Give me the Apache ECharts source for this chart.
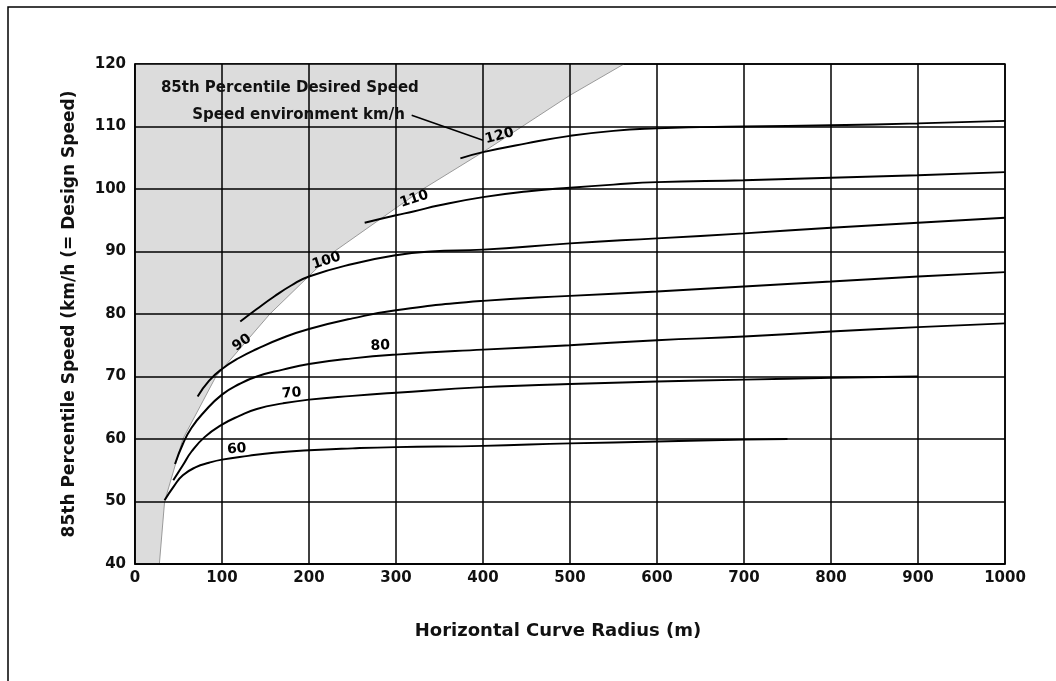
<!DOCTYPE html>
<html>
<head>
<meta charset="utf-8">
<script src="https://cdn.jsdelivr.net/npm/echarts@6/dist/echarts.min.js"></script>
<style>
  html, body { margin: 0; padding: 0; background: #fff; }
  #chart { width: 1056px; height: 681px; }
</style>
</head>
<body>
<div id="chart"></div>
<script>
// speed environment curves, [radius m, 85th percentile speed km/h]
const env60 = [[34,50.2],[45,52.5],[55,54.2],[70,55.5],[85,56.2],[100,56.7],[130,57.3],[160,57.8],[200,58.2],[250,58.5],[300,58.7],[400,58.9],[500,59.3],[600,59.6],[700,59.9],[750,60]]
const env70 = [[44,53.4],[55,55.8],[65,58],[80,60.3],[100,62.3],[120,63.7],[140,64.8],[170,65.7],[200,66.3],[250,66.9],[300,67.4],[400,68.3],[500,68.8],[600,69.2],[700,69.5],[800,69.8],[900,70]]
const env80 = [[46,56],[55,59.2],[65,61.8],[80,64.4],[100,67.1],[120,68.8],[140,70],[170,71.1],[200,72],[250,72.9],[300,73.5],[400,74.3],[500,75],[600,75.8],[700,76.4],[800,77.2],[900,77.9],[1000,78.5]]
const env90 = [[72,66.8],[85,69.3],[100,71.2],[120,73],[140,74.4],[170,76.2],[200,77.6],[250,79.3],[300,80.6],[400,82.1],[500,82.9],[600,83.6],[700,84.4],[800,85.2],[900,86],[1000,86.7]]
const env100 = [[121,78.8],[140,80.8],[160,82.8],[180,84.6],[200,86],[250,88],[300,89.4],[340,90],[400,90.3],[500,91.3],[600,92.1],[700,92.9],[800,93.8],[900,94.6],[1000,95.4]]
const env110 = [[264,94.6],[300,95.8],[320,96.4],[350,97.4],[400,98.7],[450,99.6],[500,100.2],[550,100.7],[600,101.1],[700,101.4],[800,101.8],[900,102.2],[1000,102.7]]
const env120 = [[374,104.9],[400,105.9],[450,107.3],[500,108.5],[550,109.3],[600,109.7],[650,109.9],[700,110],[800,110.2],[900,110.5],[1000,110.9]]

// edge of the desired speed zone (shaded side is above/left)
const desiredEdge = [[0,40],[28,40],[34,50],[55,60],[93,70],[155,80],[229,90],[331,100],[401,106],[500,115],[562,120]]

// curve labels
const labelText = ['60','70','80','90','100','110','120']
const labelPos = [[117,58.4],[180,67.3],[282,74.9],[123,75.4],[220,88.5],[321,98.4],[419,108.5]]
const labelTilt = [5,5,3,35,18,18,15]

const xTicks = [0,100,200,300,400,500,600,700,800,900,1000]
const yTicks = [40,50,60,70,80,90,100,110,120]

const font = 'DejaVu Sans'

let chart = echarts.init(document.getElementById('chart'))

function curve(data) {
    return {
        type: 'line',
        data: data,
        symbol: 'none',
        smooth: 0.5,
        lineStyle: { color: '#000', width: 2 },
        z: 3
    }
}

let option = {
    backgroundColor: '#fff',
    animation: false,
    grid: {
        left: 135, right: 51, top: 64, bottom: 117,
        show: true, borderColor: '#000', borderWidth: 1.5
    },
    xAxis: {
        type: 'value',
        min: xTicks[0], max: xTicks[xTicks.length - 1], interval: 100,
        name: 'Horizontal Curve Radius (m)',
        nameLocation: 'middle', nameGap: 58,
        nameTextStyle: { fontFamily: font, fontWeight: 'bold', fontSize: 18, color: '#111', padding: [0, 24, 0, 0] },
        axisLine: { lineStyle: { color: '#000', width: 1.5 } },
        axisTick: { show: false },
        axisLabel: { fontFamily: font, fontWeight: 'bold', fontSize: 15, color: '#111', margin: 7, formatter: v => String(v) },
        splitLine: { lineStyle: { color: '#000', width: 1.5 } },
        z: 4
    },
    yAxis: {
        type: 'value',
        min: yTicks[0], max: yTicks[yTicks.length - 1], interval: 10,
        name: '85th Percentile Speed (km/h (= Design Speed)',
        nameLocation: 'middle', nameGap: 57,
        nameTextStyle: { fontFamily: font, fontWeight: 'bold', fontSize: 17, color: '#111' },
        axisLine: { lineStyle: { color: '#000', width: 1.5 } },
        axisTick: { show: false },
        axisLabel: { fontFamily: font, fontWeight: 'bold', fontSize: 15, color: '#111', margin: 9 },
        splitLine: { lineStyle: { color: '#000', width: 1.5 } },
        z: 4
    },
    graphic: [{
        type: 'rect',
        shape: { x: 8, y: 7, width: 1200, height: 900 },
        style: { fill: 'none', stroke: '#000', lineWidth: 1.5 },
        silent: true
    }],
    series: [
        {
            // shaded desired speed zone
            type: 'line',
            data: desiredEdge,
            symbol: 'none',
            lineStyle: { color: '#9a9a9a', width: 1 },
            areaStyle: { color: '#dcdcdc', opacity: 1, origin: 'end' },
            z: 1
        },
        curve(env60), curve(env70), curve(env80), curve(env90),
        curve(env100), curve(env110), curve(env120),
        {
            // leader from the legend note to the 120 curve
            type: 'line',
            data: [[318, 111.8], [400, 107.8]],
            symbol: 'none',
            lineStyle: { color: '#000', width: 1.5 },
            z: 3
        },
        {
            type: 'scatter',
            symbolSize: 1,
            itemStyle: { color: 'rgba(0,0,0,0)' },
            z: 5,
            data: labelText.map((t, i) => ({
                value: labelPos[i],
                name: t,
                label: { rotate: labelTilt[i] }
            })),
            label: {
                show: true, position: 'inside',
                formatter: p => p.name,
                fontFamily: font, fontWeight: 'bold', fontSize: 14, color: '#000',
                textBorderWidth: 0, opacity: 1
            }
        },
        {
            type: 'scatter',
            symbolSize: 1,
            itemStyle: { color: 'rgba(0,0,0,0)' },
            z: 5,
            data: [
                { value: [178, 116.2], name: '85th Percentile Desired Speed' },
                { value: [188, 111.8], name: 'Speed environment km/h' }
            ],
            label: {
                show: true, position: 'inside',
                formatter: p => p.name,
                fontFamily: font, fontWeight: 'bold', fontSize: 15, color: '#111',
                textBorderWidth: 0, opacity: 1
            }
        }
    ]
}
chart.setOption(option)
</script>
</body>
</html>
